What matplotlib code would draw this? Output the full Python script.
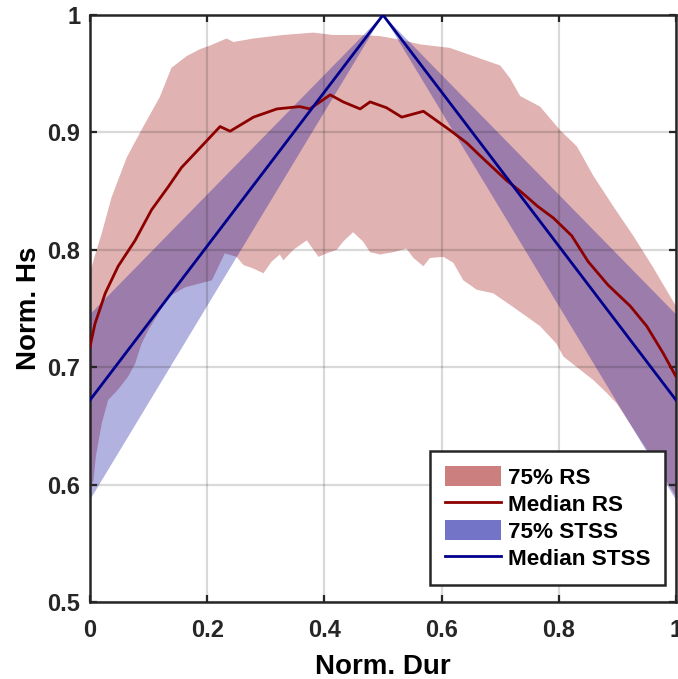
import numpy as np
import matplotlib.pyplot as plt
from matplotlib.patches import Patch
from matplotlib.lines import Line2D

plt.rcParams['font.family'] = ['Liberation Sans', 'DejaVu Sans']
plt.rcParams['font.weight'] = 'bold'

# RS envelope (75%) and median
rs_up_x = [0, 0.006, 0.02, 0.037, 0.063, 0.091, 0.119, 0.139, 0.165, 0.188, 0.205,
           0.233, 0.245, 0.279, 0.33, 0.381, 0.415, 0.461, 0.495, 0.529, 0.563, 0.614,
           0.654, 0.70, 0.717, 0.734, 0.768, 0.802, 0.831, 0.859, 0.893, 0.927, 0.961, 1.0]
rs_up_y = [0.78, 0.791, 0.814, 0.845, 0.879, 0.905, 0.930, 0.955, 0.965, 0.971, 0.974,
           0.980, 0.977, 0.980, 0.983, 0.985, 0.983, 0.983, 0.982, 0.979, 0.975, 0.972,
           0.965, 0.957, 0.946, 0.931, 0.922, 0.902, 0.888, 0.863, 0.837, 0.812, 0.785, 0.752]

rs_lo_x = [0, 0.006, 0.01, 0.02, 0.031, 0.048, 0.065, 0.077, 0.088, 0.1, 0.134, 0.162,
           0.185, 0.208, 0.23, 0.25, 0.262, 0.279, 0.296, 0.31, 0.324, 0.33, 0.347, 0.37,
           0.39, 0.404, 0.421, 0.432, 0.449, 0.466, 0.478, 0.495, 0.518, 0.54, 0.552,
           0.569, 0.58, 0.603, 0.62, 0.637, 0.66, 0.688, 0.72, 0.768, 0.796, 0.808, 0.836,
           0.859, 0.882, 0.899, 0.95, 1.0]
rs_lo_y = [0.595, 0.604, 0.624, 0.652, 0.672, 0.681, 0.692, 0.703, 0.720, 0.732, 0.760,
           0.768, 0.771, 0.774, 0.797, 0.794, 0.787, 0.784, 0.780, 0.790, 0.796, 0.791,
           0.800, 0.808, 0.794, 0.797, 0.800, 0.807, 0.815, 0.807, 0.798, 0.796, 0.798,
           0.801, 0.793, 0.786, 0.793, 0.794, 0.789, 0.774, 0.766, 0.763, 0.752, 0.735,
           0.720, 0.709, 0.698, 0.689, 0.678, 0.669, 0.630, 0.590]

rs_med_x = [0, 0.0085, 0.026, 0.048, 0.077, 0.105, 0.134, 0.156, 0.19, 0.222, 0.239,
            0.279, 0.319, 0.358, 0.375, 0.41, 0.432, 0.461, 0.478, 0.506, 0.532, 0.569,
            0.614, 0.643, 0.666, 0.711, 0.734, 0.764, 0.791, 0.822, 0.85, 0.884, 0.922,
            0.95, 0.978, 1.0]
rs_med_y = [0.7175, 0.737, 0.763, 0.786, 0.808, 0.834, 0.854, 0.870, 0.888, 0.905, 0.901,
            0.913, 0.920, 0.922, 0.920, 0.932, 0.926, 0.920, 0.926, 0.921, 0.913, 0.918,
            0.902, 0.891, 0.880, 0.859, 0.850, 0.837, 0.827, 0.812, 0.790, 0.770, 0.752,
            0.735, 0.712, 0.692]

# STSS envelope (75%) and median
stss_x = [0, 0.5, 1.0]
stss_up = [0.745, 1.0, 0.745]
stss_lo = [0.587, 1.0, 0.587]
stss_med = [0.672, 1.0, 0.672]

red = '#990000'
blue = '#000099'
dark = '#262626'

fig = plt.figure(figsize=(6.78, 6.79), dpi=100)
ax = fig.add_axes([90 / 678, 1 - 602 / 679, 586 / 678, 587 / 679])

ax.fill(np.concatenate([rs_up_x, rs_lo_x[::-1]]),
        np.concatenate([rs_up_y, rs_lo_y[::-1]]),
        color=red, alpha=0.3, lw=0, zorder=1)
ax.fill(np.concatenate([stss_x, stss_x[::-1]]),
        np.concatenate([stss_up, stss_lo[::-1]]),
        color=blue, alpha=0.3, lw=0, zorder=1)
ax.plot(rs_med_x, rs_med_y, color='#8c0000', lw=2.0, zorder=3)
ax.plot(stss_x, stss_med, color='#00008c', lw=2.0, zorder=3)

ax.set_xlim(0, 1)
ax.set_ylim(0.5, 1)
ax.set_xticks([0, 0.2, 0.4, 0.6, 0.8, 1.0])
ax.set_xticklabels(['0', '0.2', '0.4', '0.6', '0.8', '1'])
ax.set_yticks([0.5, 0.6, 0.7, 0.8, 0.9, 1.0])
ax.set_yticklabels(['0.5', '0.6', '0.7', '0.8', '0.9', '1'])
ax.tick_params(direction='in', top=True, right=True, length=5, width=1.6,
               labelsize=17, colors=dark)
ax.tick_params(axis='x', pad=12)
ax.tick_params(axis='y', pad=7)
for s in ax.spines.values():
    s.set_linewidth(1.8)
    s.set_color(dark)
ax.set_axisbelow('line')
ax.grid(True, color='black', alpha=0.15, lw=1.6)

ax.set_xlabel('Norm. Dur', fontsize=20, fontweight='bold', color='black', labelpad=9)
ax.set_ylabel('Norm. Hs', fontsize=20, fontweight='bold', color='black', labelpad=4)

handles = [Patch(facecolor=red, alpha=0.5, edgecolor='none'),
           Line2D([], [], color='#8c0000', lw=2.0),
           Patch(facecolor=blue, alpha=0.55, edgecolor='none'),
           Line2D([], [], color='#00008c', lw=2.0)]
labels = ['75% RS', 'Median RS', '75% STSS', 'Median STSS']
leg = ax.legend(handles, labels, loc='lower right', bbox_to_anchor=(0.981, 0.029),
                fontsize=16.2, frameon=True, fancybox=False, framealpha=1,
                handlelength=2.5, handleheight=1.0, handletextpad=0.3,
                labelspacing=0.2, borderpad=0.65, borderaxespad=0)
leg.get_frame().set_edgecolor(dark)
leg.get_frame().set_linewidth(1.8)
for t in leg.get_texts():
    t.set_fontweight('bold')

fig.savefig('out.png', dpi=100)
